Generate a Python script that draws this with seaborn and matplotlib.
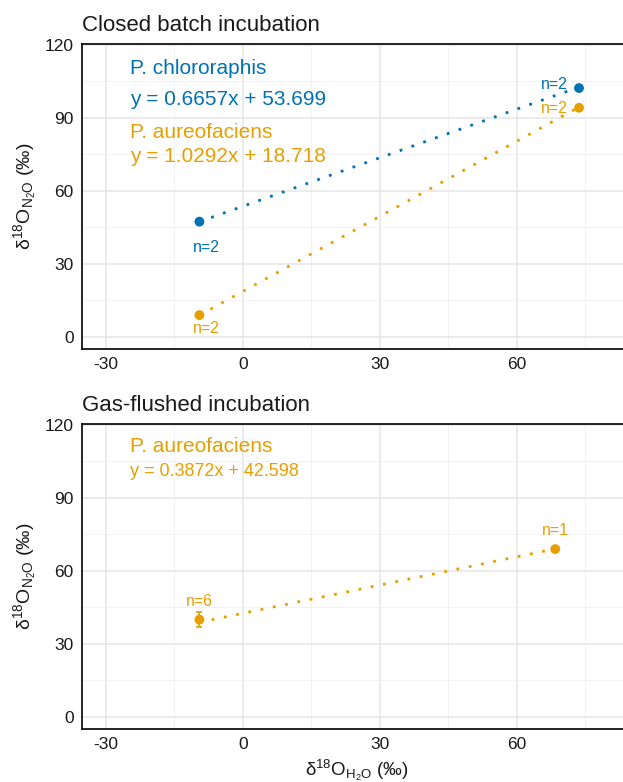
import numpy as np
import pandas as pd
import matplotlib
matplotlib.use("Agg")
import matplotlib.pyplot as plt
from matplotlib.ticker import MultipleLocator
import seaborn as sns

# ── data ──────────────────────────────────────────────
blue = "#0072B2"
orange = "#E69F00"

# closed batch incubation (mean values)
closed_x = [-9.5, 73.6]
chloro_y = [47.4, 102.3]
aureo_closed_y = [9.0, 94.2]
chloro_fit = (0.6657, 53.699)
aureo_closed_fit = (1.0292, 18.718)
closed_n = ["n=2", "n=2"]

# gas-flushed incubation
gas_x = [-9.5, 68.4]
aureo_gas_y = [40.0, 69.0]
aureo_gas_err = [3.0, 0.0]
aureo_gas_fit = (0.3872, 42.598)
gas_n = ["n=6", "n=1"]

# ── style ─────────────────────────────────────────────
sns.set_theme(style="white")
plt.rcParams["font.family"] = ["Liberation Sans", "DejaVu Sans"]
plt.rcParams["mathtext.fontset"] = "custom"
plt.rcParams["mathtext.rm"] = "Liberation Sans"
plt.rcParams["mathtext.it"] = "Liberation Sans"
plt.rcParams["axes.unicode_minus"] = False

W, H = 623, 782
fig = plt.figure(figsize=(W / 100, H / 100), dpi=100)

def px_axes(top, bottom, left=82, right=632):
    return fig.add_axes([left / W, 1 - bottom / H, (right - left) / W, (bottom - top) / H])

ax1 = px_axes(44, 349)
ax2 = px_axes(424, 729)

ylab = r"δ$^{18}$O$_{\mathrm{N_2O}}$ (‰)"
xlab = r"δ$^{18}$O$_{\mathrm{H_2O}}$ (‰)"

def style_axes(ax):
    ax.set_xlim(-35.2, 85.2)
    ax.set_ylim(-4.93, 120.4)
    ax.xaxis.set_major_locator(MultipleLocator(30))
    ax.xaxis.set_minor_locator(MultipleLocator(15))
    ax.yaxis.set_major_locator(MultipleLocator(30))
    ax.yaxis.set_minor_locator(MultipleLocator(15))
    ax.grid(which="major", color="#E6E6E6", lw=1.1, zorder=0)
    ax.grid(which="minor", color="#F0F0F0", lw=0.6, zorder=0)
    ax.set_axisbelow(True)
    for s in ["top", "left", "bottom"]:
        ax.spines[s].set_color("black")
        ax.spines[s].set_linewidth(1.2)
    ax.spines["right"].set_visible(False)
    ax.tick_params(which="both", length=0, labelsize=12.5, colors="#1a1a1a", pad=6)

def fit_line(ax, xs, fit, color):
    lx = np.array([min(xs), max(xs)])
    df = pd.DataFrame({"x": lx, "y": fit[0] * lx + fit[1]})
    sns.lineplot(data=df, x="x", y="y", ax=ax, color=color, lw=2.0,
                 linestyle=(0, (1, 3.5)), dash_capstyle="butt", zorder=2)

def points(ax, xs, ys, color):
    df = pd.DataFrame({"x": xs, "y": ys})
    sns.scatterplot(data=df, x="x", y="y", ax=ax, color=color, s=50,
                    edgecolor="none", zorder=3)

# ── panel 1: closed batch ─────────────────────────────
style_axes(ax1)
fit_line(ax1, closed_x, chloro_fit, blue)
fit_line(ax1, closed_x, aureo_closed_fit, orange)
points(ax1, closed_x, chloro_y, blue)
points(ax1, closed_x, aureo_closed_y, orange)
ax1.set_xlabel("")
ax1.set_ylabel(ylab, fontsize=14, color="#1a1a1a")
ax1.yaxis.set_label_coords(-0.08, 0.5)

ax1.text(-24.7, 108.1, "P. chlororaphis", color=blue, fontsize=15)
ax1.text(-24.7, 95.4, "y = %.4fx + %.3f" % chloro_fit, color=blue, fontsize=15)
ax1.text(-24.7, 81.7, "P. aureofaciens", color=orange, fontsize=15)
ax1.text(-24.7, 72.0, "y = %.4fx + %.3f" % aureo_closed_fit, color=orange, fontsize=15)

ax1.text(-7.9, 35.1, closed_n[0], color=blue, fontsize=11.5, ha="center")
ax1.text(68.2, 101.9, closed_n[1], color=blue, fontsize=11.5, ha="center")
ax1.text(-7.9, 1.5, closed_n[0], color=orange, fontsize=11.5, ha="center")
ax1.text(68.2, 91.9, closed_n[1], color=orange, fontsize=11.5, ha="center")

fig.text(82 / W, 1 - 30.7 / H, "Closed batch incubation", fontsize=16,
         color="#1a1a1a", va="baseline")

# ── panel 2: gas-flushed ──────────────────────────────
style_axes(ax2)
fit_line(ax2, gas_x, aureo_gas_fit, orange)
ax2.errorbar(gas_x[:1], aureo_gas_y[:1], yerr=aureo_gas_err[:1], fmt="none",
             ecolor=orange, elinewidth=1.2, capsize=2.5, capthick=1.2, zorder=3)
points(ax2, gas_x, aureo_gas_y, orange)
ax2.set_xlabel(xlab, fontsize=13.5, color="#1a1a1a")
ax2.xaxis.set_label_coords(0.5, -0.093)
ax2.set_ylabel(ylab, fontsize=14, color="#1a1a1a")
ax2.yaxis.set_label_coords(-0.08, 0.5)

ax2.text(-24.7, 108.7, "P. aureofaciens", color=orange, fontsize=15)
ax2.text(-24.7, 98.9, "y = %.4fx + %.3f" % aureo_gas_fit, color=orange, fontsize=13)

ax2.text(gas_x[0], 45.5, gas_n[0], color=orange, fontsize=11.5, ha="center")
ax2.text(gas_x[1], 74.7, gas_n[1], color=orange, fontsize=11.5, ha="center")

fig.text(82 / W, 1 - 410.7 / H, "Gas-flushed incubation", fontsize=16,
         color="#1a1a1a", va="baseline")

fig.savefig("out.png", dpi=100)
